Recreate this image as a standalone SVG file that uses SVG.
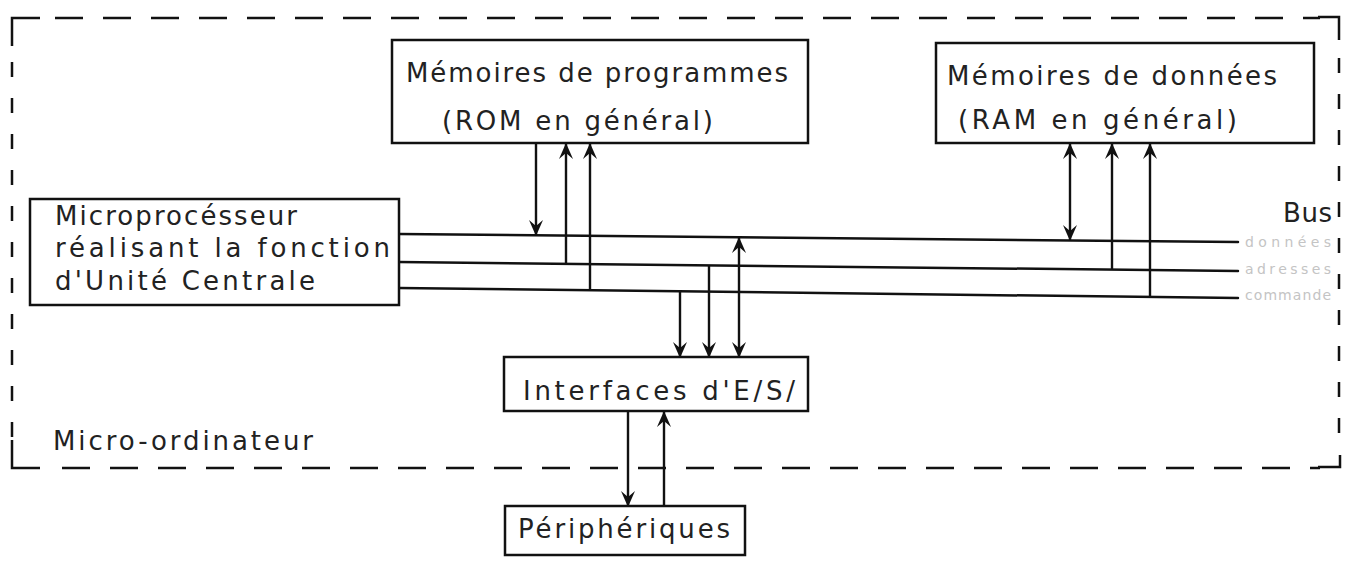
<svg xmlns="http://www.w3.org/2000/svg" width="1347" height="561" viewBox="0 0 1347 561">
  <style>
    .box { fill: #fff; stroke: #111; stroke-width: 2.5; }
    .txt { font-family: "DejaVu Sans", "Liberation Sans", sans-serif; font-size: 26px; fill: #222; }
    .bus { stroke: #111; stroke-width: 2.5; fill: none; stroke-linecap: round; }
    .link { stroke: #111; stroke-width: 2.4; fill: none; }
    .frame-h { stroke: #111; stroke-width: 2.5; fill: none; stroke-dasharray: 28 20; }
    .frame-v { stroke: #111; stroke-width: 2.5; fill: none; stroke-dasharray: 15 21; }
    .corner { stroke: #111; stroke-width: 2.5; fill: none; }
    .faint { font-family: "DejaVu Sans", "Liberation Sans", sans-serif; font-size: 14px; fill: #c4c4c4; }
  </style>
  <defs>
    <!-- bold chevron arrowhead, reversible for two-way links -->
    <marker id="arr" viewBox="0 0 16 16" refX="15" refY="8" markerWidth="16" markerHeight="16" markerUnits="userSpaceOnUse" orient="auto-start-reverse">
      <path d="M0,1 L16,8 L0,15 L6,8 z" fill="#111"/>
    </marker>
  </defs>

  <rect width="1347" height="561" fill="#fff"/>

  <!-- Dashed outline of the micro-computer -->
  <g id="frame">
    <path class="corner" d="M12,46 V18 H40"/>
    <path class="frame-h" d="M55,18 H1320"/>
    <path class="corner" d="M1318,17 H1339 V40"/>
    <path class="frame-v" d="M12,62 V440"/>
    <path class="frame-v" d="M1339,58 V450"/>
    <path class="corner" d="M12,440 V468 H40"/>
    <path class="frame-h" d="M62,468 H1320"/>
    <path class="corner" d="M1318,467 H1340 V455"/>
    <text class="txt" x="53" y="450" textLength="260" lengthAdjust="spacing">Micro-ordinateur</text>
  </g>

  <!-- Bus lines and links -->
  <g id="connectors">
    <line class="bus" x1="399" y1="234" x2="1238" y2="242"/>
    <line class="bus" x1="399" y1="262" x2="1238" y2="271"/>
    <line class="bus" x1="399" y1="288" x2="1238" y2="298"/>

    <!-- program memory -->
    <line class="link" x1="536" y1="143" x2="536" y2="235" marker-end="url(#arr)"/>
    <line class="link" x1="566" y1="264" x2="566" y2="144" marker-end="url(#arr)"/>
    <line class="link" x1="590" y1="290" x2="590" y2="144" marker-end="url(#arr)"/>

    <!-- data memory -->
    <line class="link" x1="1070" y1="144" x2="1070" y2="240" marker-start="url(#arr)" marker-end="url(#arr)"/>
    <line class="link" x1="1112" y1="270" x2="1112" y2="144" marker-end="url(#arr)"/>
    <line class="link" x1="1150" y1="297" x2="1150" y2="144" marker-end="url(#arr)"/>

    <!-- I/O interfaces -->
    <line class="link" x1="680" y1="291" x2="680" y2="357" marker-end="url(#arr)"/>
    <line class="link" x1="709" y1="265" x2="709" y2="357" marker-end="url(#arr)"/>
    <line class="link" x1="739" y1="238" x2="739" y2="357" marker-start="url(#arr)" marker-end="url(#arr)"/>

    <!-- peripherals -->
    <line class="link" x1="628" y1="411" x2="628" y2="506" marker-end="url(#arr)"/>
    <line class="link" x1="664" y1="506" x2="664" y2="412" marker-end="url(#arr)"/>

    <text class="txt" x="1283" y="222" textLength="49" lengthAdjust="spacing">Bus</text>
    <text class="faint" x="1245" y="247" textLength="86" lengthAdjust="spacing">données</text>
    <text class="faint" x="1245" y="274" textLength="86" lengthAdjust="spacing">adresses</text>
    <text class="faint" x="1245" y="300" textLength="86" lengthAdjust="spacing">commande</text>
  </g>

  <g id="rom">
    <rect class="box" x="392" y="40" width="416" height="103"/>
    <text class="txt" x="406" y="82" textLength="382" lengthAdjust="spacing">Mémoires de programmes</text>
    <text class="txt" x="442" y="130" textLength="271" lengthAdjust="spacing">(ROM en général)</text>
  </g>

  <g id="ram">
    <rect class="box" x="936" y="43" width="378" height="100"/>
    <text class="txt" x="947" y="85" textLength="330" lengthAdjust="spacing">Mémoires de données</text>
    <text class="txt" x="958" y="129" textLength="279" lengthAdjust="spacing">(RAM en général)</text>
  </g>

  <g id="cpu">
    <rect class="box" x="30" y="199" width="369" height="106"/>
    <text class="txt" x="55" y="225" textLength="242" lengthAdjust="spacing">Microprocésseur</text>
    <text class="txt" x="55" y="257" textLength="335" lengthAdjust="spacing">réalisant la fonction</text>
    <text class="txt" x="55" y="290" textLength="260" lengthAdjust="spacing">d'Unité Centrale</text>
  </g>

  <g id="io">
    <rect class="box" x="504" y="357" width="304" height="54"/>
    <text class="txt" x="523" y="400" textLength="272" lengthAdjust="spacing">Interfaces d'E/S/</text>
  </g>

  <g id="peripherals">
    <rect class="box" x="505" y="506" width="240" height="49"/>
    <text class="txt" x="518" y="538" textLength="212" lengthAdjust="spacing">Périphériques</text>
  </g>
</svg>
